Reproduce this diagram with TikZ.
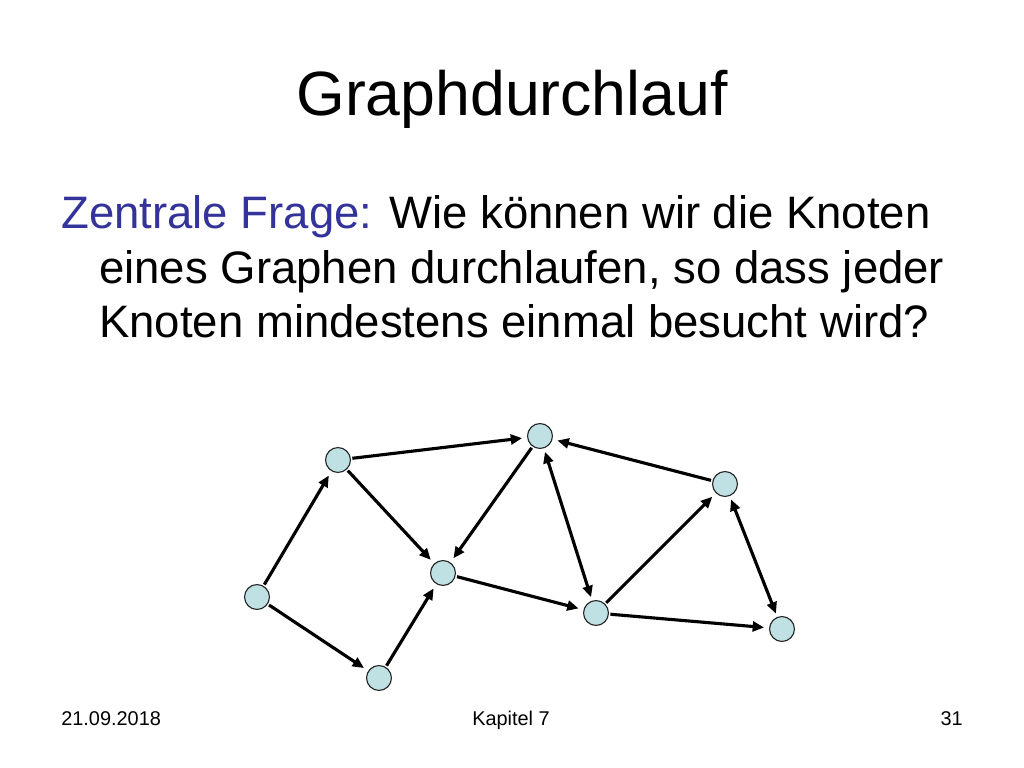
\documentclass[tikz,border=0pt]{standalone}
\usepackage{fontspec}
\setmainfont{Liberation Sans}
\usetikzlibrary{arrows.meta}
\definecolor{knotenfill}{RGB}{191,225,228}
\definecolor{fragblau}{RGB}{51,51,153}

\begin{document}
\begin{tikzpicture}[x=0.703125pt,y=-0.703125pt,
        knoten/.style={circle,draw=black!85,line width=0.8pt,fill=knotenfill,minimum size=17.5pt,inner sep=0pt},
        kante/.style={line width=2.2pt,-{Triangle[length=8pt,width=7pt]},shorten >=3.5pt,shorten <=1pt},
        beide/.style={line width=2.2pt,{Triangle[length=8pt,width=7pt]}-{Triangle[length=8pt,width=7pt]},shorten >=2.5pt,shorten <=2.5pt}]
        \useasboundingbox (0,0) rectangle (1024,768);
        \node[anchor=base,font=\fontsize{44}{52}\selectfont] (titel) at (512,116) {Graphdurchlauf};
        \node[anchor=base west,inner sep=0pt,font=\fontsize{32}{38}\selectfont] (zeile1) at (61,229) {\textcolor{fragblau}{Zentrale Frage:} Wie können wir die Knoten};
        \node[anchor=base west,inner sep=0pt,font=\fontsize{32}{38}\selectfont] (zeile2) at (99,283) {eines Graphen durchlaufen, so dass jeder};
        \node[anchor=base west,inner sep=0pt,font=\fontsize{32}{38}\selectfont] (zeile3) at (99,337) {Knoten mindestens einmal besucht wird?};
        \node[knoten] (k1) at (257,597) {};
        \node[knoten] (k2) at (338,460) {};
        \node[knoten] (k3) at (540,436) {};
        \node[knoten] (k4) at (443,573) {};
        \node[knoten] (k5) at (379,678) {};
        \node[knoten] (k6) at (596,613) {};
        \node[knoten] (k7) at (725,484) {};
        \node[knoten] (k8) at (782,629) {};
        \draw[kante] (k1) -- (k2);
        \draw[kante] (k1) -- (k5);
        \draw[kante] (k5) -- (k4);
        \draw[kante] (k2) -- (k4);
        \draw[kante] (k2) -- (k3);
        \draw[kante] (k3) -- (k4);
        \draw[kante] (k4) -- (k6);
        \draw[beide] (k3) -- (k6);
        \draw[kante] (k6) -- (k7);
        \draw[kante] (k7) -- (k3);
        \draw[beide] (k7) -- (k8);
        \draw[kante] (k6) -- (k8);
        \node[anchor=base west,inner sep=0pt,font=\fontsize{14}{17}\selectfont] (datum) at (61,725) {21.09.2018};
        \node[anchor=base,inner sep=0pt,font=\fontsize{14}{17}\selectfont] (kapitel) at (511,725) {Kapitel 7};
        \node[anchor=base east,inner sep=0pt,font=\fontsize{14}{17}\selectfont] (seite) at (963,725) {31};
    \end{tikzpicture}
\end{document}
